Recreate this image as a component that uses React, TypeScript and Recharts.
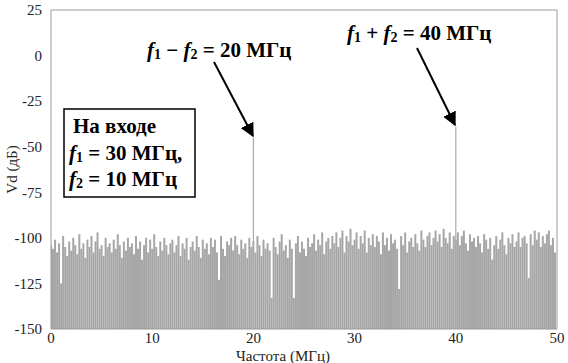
import React from 'react';
import { ComposedChart, Bar, XAxis, YAxis, ReferenceLine } from 'recharts';

document.body.style.margin = '0';

// noise floor, one value every 0.2 MHz (dB)
const noise = [
  -104, -106, -101, -108, -103, -125, -99, -105, -110, -102,
  -107, -100, -104, -109, -98, -106, -103, -111, -101, -105,
  -99, -108, -102, -97, -106, -104, -110, -100, -105, -103,
  -108, -101, -106, -98, -104, -111, -102, -107, -100, -105,
  -103, -109, -99, -106, -102, -112, -104, -100, -108, -101,
  -106, -98, -105, -110, -102, -107, -100, -104, -109, -103,
  -101, -108, -104, -99, -110, -103, -106, -100, -112, -105,
  -102, -107, -99, -105, -111, -101, -106, -103, -109, -100,
  -105, -101, -108, -123, -99, -106, -110, -102, -104, -100,
  -107, -99, -104, -109, -101, -106, -103, -111, -100, -105,
  -102, -108, -99, -104, -110, -101, -106, -103, -107, -133,
  -100, -105, -109, -102, -98, -107, -104, -111, -101, -106,
  -133, -103, -99, -108, -102, -106, -110, -100, -105, -103,
  -98, -107, -101, -104, -97, -109, -102, -100, -106, -99,
  -103, -97, -105, -100, -96, -108, -99, -102, -95, -104,
  -101, -97, -106, -99, -103, -96, -108, -100, -104, -98,
  -105, -99, -102, -109, -97, -104, -100, -107, -98, -103,
  -101, -106, -128, -99, -104, -97, -108, -102, -100, -105,
  -98, -103, -107, -96, -101, -105, -99, -97, -104, -100,
  -96, -102, -98, -105, -95, -100, -103, -97, -106, -99,
  -101, -97, -104, -99, -96, -103, -107, -98, -102, -100,
  -105, -99, -103, -108, -98, -101, -106, -100, -112, -104,
  -99, -106, -101, -97, -104, -109, -100, -103, -98, -105,
  -102, -97, -105, -100, -99, -103, -122, -98, -104, -96,
  -101, -97, -105, -99, -103, -98, -96, -104, -100, -108,
];
const step = 0.2;

const spikeFreqs = [20, 40];
const spikeLevels = [-45, -39];

const xTicks = [0, 10, 20, 30, 40, 50];
const yTicks = [-150, -125, -100, -75, -50, -25, 0, 25];

const floorDb = -150;
const data = noise.map((v, i) => ({ f: +(i * step).toFixed(1), range: [floorDb, v] }));

const font = "'Liberation Serif', 'Times New Roman', 'DejaVu Serif', serif";
const axisColor = '#999';
const tickStyle = { fontSize: 15, fill: '#222', fontFamily: font };

const Sub = ({ children }: any) => (
  <tspan fontSize={14} dy={2}>{children}</tspan>
);

const bold = { fontFamily: font, fontWeight: 'bold' as const, fontSize: 21 };

const Annotations = () => (
  <svg width={568} height={363} style={{ position: 'absolute', left: 0, top: 0, pointerEvents: 'none' }}>
    <defs>
      <marker id="arr" viewBox="0 0 10 10" refX="9" refY="5" markerWidth="7" markerHeight="7" orient="auto">
        <path d="M0,0 L10,5 L0,10 z" fill="#000" />
      </marker>
    </defs>
    <text x={147} y={57} style={bold}>
      <tspan fontStyle="italic">f</tspan><Sub>1</Sub>
      <tspan dy={-2}> − </tspan>
      <tspan fontStyle="italic">f</tspan><Sub>2</Sub>
      <tspan dy={-2}> = 20 МГц</tspan>
    </text>
    <text x={347} y={40} style={bold}>
      <tspan fontStyle="italic">f</tspan><Sub>1</Sub>
      <tspan dy={-2}> + </tspan>
      <tspan fontStyle="italic">f</tspan><Sub>2</Sub>
      <tspan dy={-2}> = 40 МГц</tspan>
    </text>
    <line x1={214} y1={62} x2={253} y2={136} stroke="#000" strokeWidth={2} markerEnd="url(#arr)" />
    <line x1={417} y1={48} x2={455} y2={125} stroke="#000" strokeWidth={2} markerEnd="url(#arr)" />
    <rect x={64} y={109} width={131} height={88} fill="#fff" stroke="#000" strokeWidth={1.5} />
    <text x={73} y={133} style={bold}>На входе</text>
    <text x={69} y={160} style={bold}>
      <tspan fontStyle="italic">f</tspan><Sub>1</Sub>
      <tspan dy={-2}> = 30 МГц,</tspan>
    </text>
    <text x={69} y={186} style={bold}>
      <tspan fontStyle="italic">f</tspan><Sub>2</Sub>
      <tspan dy={-2}> = 10 МГц</tspan>
    </text>
    <text x={283} y={361} textAnchor="middle" style={{ fontFamily: font, fontSize: 15, fill: '#222' }}>
      Частота (МГц)
    </text>
  </svg>
);

export default function App() {
  return (
    <div style={{ position: 'relative', width: 568, height: 363, background: '#fff' }}>
      <ComposedChart width={568} height={363} data={data} margin={{ top: 10, right: 11, bottom: 0, left: 0 }}>
        <XAxis
          dataKey="f"
          type="number"
          domain={[0, 50]}
          ticks={xTicks}
          allowDataOverflow
          height={34}
          stroke={axisColor}
          tickLine={false}
          tick={tickStyle}
          tickMargin={-3}
        />
        <YAxis
          type="number"
          domain={[-150, 25]}
          ticks={yTicks}
          allowDataOverflow
          width={51}
          stroke={axisColor}
          tickLine={false}
          tick={tickStyle}
          tickMargin={3}
          label={{ value: 'Vd (дБ)', angle: -90, position: 'insideLeft', offset: 12, style: { textAnchor: 'middle', fontSize: 15, fill: '#222', fontFamily: font } }}
        />
        <ReferenceLine y={25} stroke={axisColor} />
        <ReferenceLine x={50} stroke={axisColor} />
        <Bar dataKey="range" fill="#a6a6a6" barSize={2} isAnimationActive={false} />
        {spikeFreqs.map((f, i) => (
          <ReferenceLine
            key={f}
            segment={[{ x: f, y: floorDb }, { x: f, y: spikeLevels[i] }]}
            stroke="#aaa"
            strokeWidth={1.2}
          />
        ))}
      </ComposedChart>
      <Annotations />
    </div>
  );
}
